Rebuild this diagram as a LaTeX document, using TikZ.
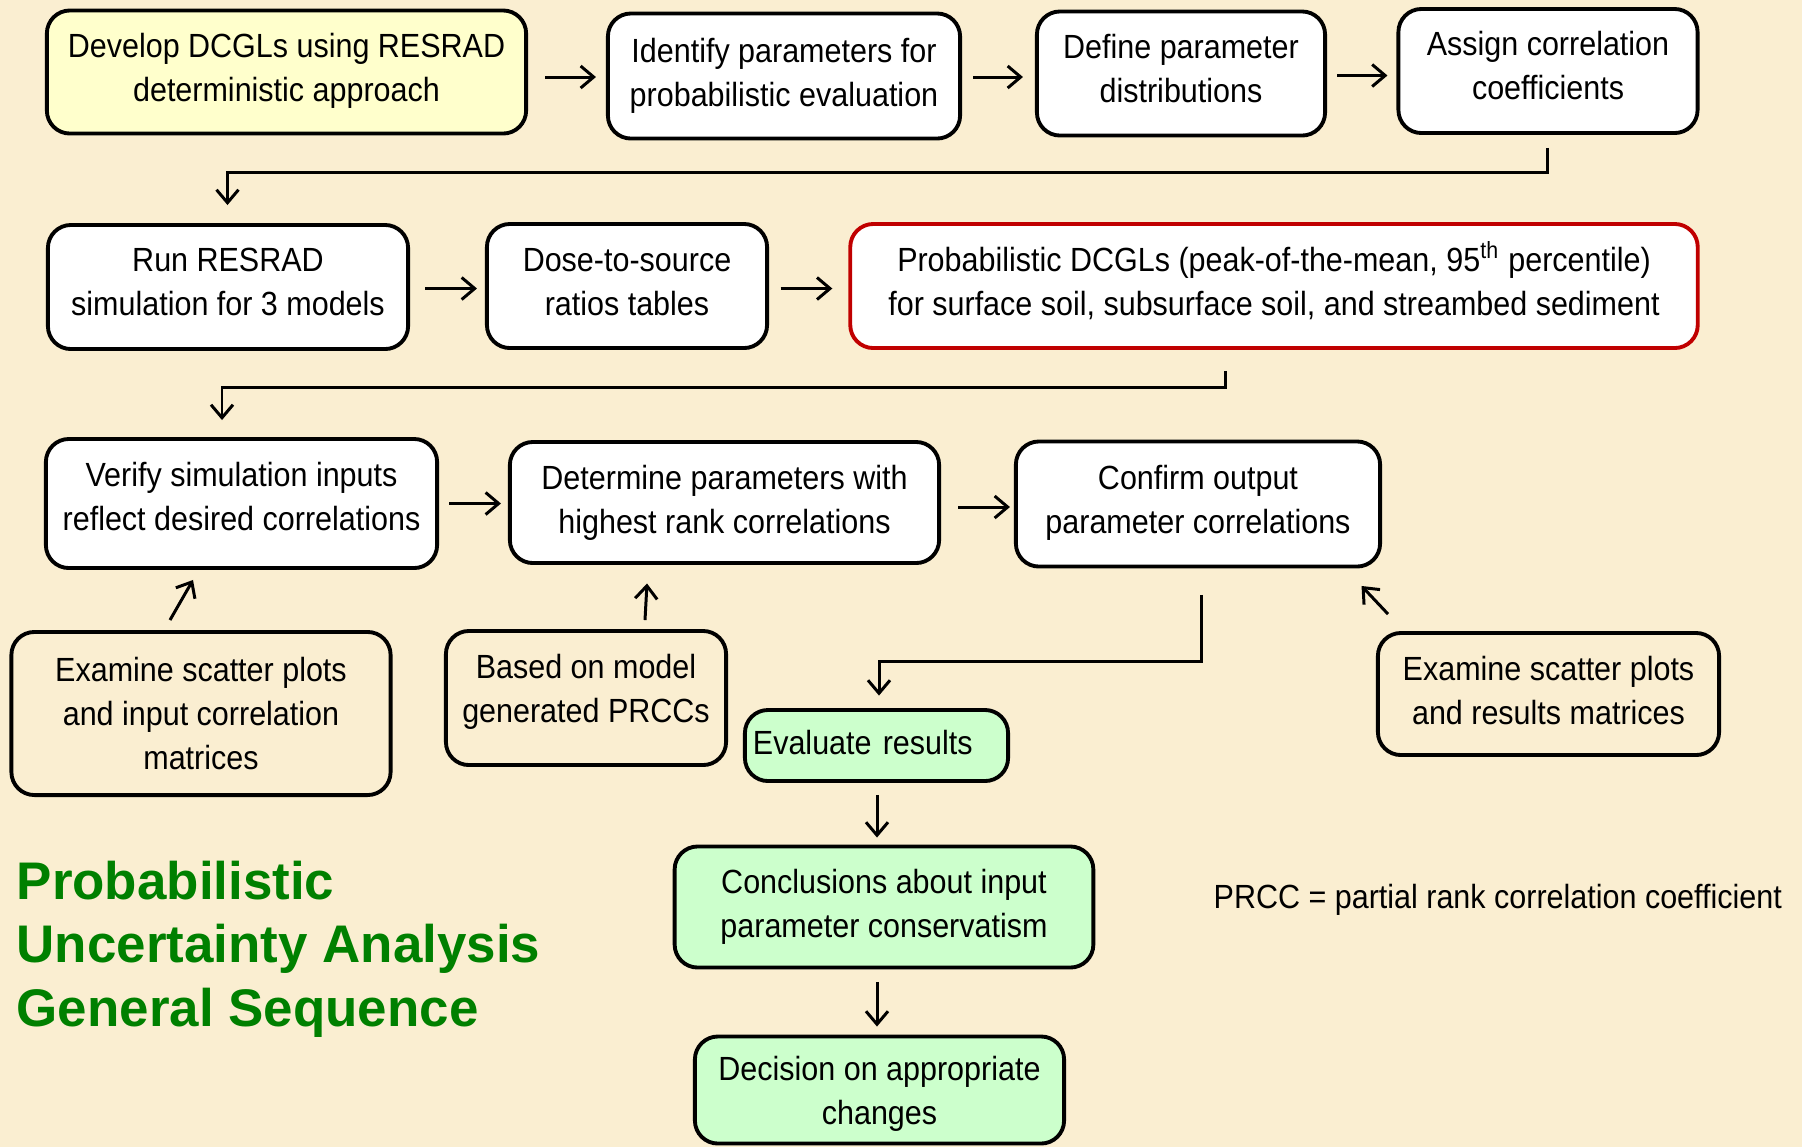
\documentclass[tikz,border=0pt]{standalone}
\usepackage{fontspec}
\setmainfont[FakeStretch=0.91]{Liberation Sans}
\newfontfamily\titlefont{Liberation Sans}
\usetikzlibrary{arrows.meta,calc}
\definecolor{parch}{RGB}{250,238,209}
\definecolor{boxyellow}{RGB}{255,255,204}
\definecolor{boxgreen}{RGB}{204,255,204}
\definecolor{boxred}{RGB}{192,0,0}
\definecolor{titlegreen}{RGB}{0,128,0}
\newcommand\topstrutx{\rule{0pt}{9pt}}
\newcommand\botstrutx[1]{\rule[-#1pt]{0pt}{#1pt}}
\begin{document}
\begin{tikzpicture}[x=0.01cm,y=-0.01cm,
  box/.style={draw=black, line width=1.1pt, rounded corners=0.23cm, align=center,
    font=\fontsize{9.53}{12.5}\selectfont, inner sep=0pt},
  arr/.style={-{Straight Barb[length=0.13cm,width=0.22cm]}, line width=0.85pt},
  plain/.style={font=\fontsize{9.53}{12.5}\selectfont, inner sep=0pt}]
\fill[parch] (0,0) rectangle (1802,1147);
\useasboundingbox (0,0) rectangle (1802,1147);

% row 1
\node[box, fill=boxyellow, minimum width=4.79cm, minimum height=1.23cm] (A) at (286.5,72)
  {\topstrutx Develop DCGLs using RESRAD\\deterministic approach\botstrutx{4.95}};
\node[box, fill=white, minimum width=3.52cm, minimum height=1.25cm] (B) at (784,76)
  {\topstrutx Identify parameters for\\probabilistic evaluation\botstrutx{4.29}};
\node[box, fill=white, minimum width=2.88cm, minimum height=1.24cm] (C) at (1181,73.5)
  {\topstrutx Define parameter\\distributions\botstrutx{5.27}};
\node[box, fill=white, minimum width=2.99cm, minimum height=1.24cm] (D) at (1548,71)
  {\topstrutx Assign correlation\\coefficients\botstrutx{5.27}};

% row 2
\node[box, fill=white, minimum width=3.60cm, minimum height=1.24cm] (E) at (228,287)
  {\topstrutx Run RESRAD\\simulation for 3 models\botstrutx{5.27}};
\node[box, fill=white, minimum width=2.80cm, minimum height=1.24cm] (F) at (627,286)
  {\topstrutx Dose-to-source\\ratios tables\botstrutx{4.95}};
\node[box, fill=white, draw=boxred, minimum width=8.47cm, minimum height=1.24cm] (G) at (1274,286)
  {\topstrutx Probabilistic DCGLs (peak-of-the-mean, 95\textsuperscript{th} percentile)\\for surface soil, subsurface soil, and streambed sediment\botstrutx{4.95}};

% row 3
\node[box, fill=white, minimum width=3.91cm, minimum height=1.29cm] (H) at (241.5,503.5)
  {\topstrutx Verify simulation inputs\\reflect desired correlations\botstrutx{5.93}};
\node[box, fill=white, minimum width=4.29cm, minimum height=1.21cm] (I) at (724.5,502.5)
  {\topstrutx Determine parameters with\\highest rank correlations\botstrutx{3.63}};
\node[box, fill=white, minimum width=3.64cm, minimum height=1.25cm] (J) at (1198,504)
  {\topstrutx Confirm output\\parameter correlations\botstrutx{4.95}};

% row 4
\node[box, minimum width=3.79cm, minimum height=1.63cm] (L) at (201,713.5)
  {\topstrutx Examine scatter plots\\and input correlation\\matrices\botstrutx{2.33}};
\node[box, minimum width=2.80cm, minimum height=1.34cm] (M) at (586,698)
  {\topstrutx Based on model\\generated PRCCs\botstrutx{7.57}};
\node[box, minimum width=3.41cm, minimum height=1.22cm] (N) at (1548.5,694)
  {\topstrutx Examine scatter plots\\and results matrices\botstrutx{3.97}};
\node[box, fill=boxgreen, align=left, text width=2.47cm, inner xsep=0.08cm, minimum height=0.71cm] (K) at (876.5,745.5)
  {\topstrutx Evaluate results\botstrutx{3.63}};
\node[box, fill=boxgreen, minimum width=4.185cm, minimum height=1.21cm] (O) at (884,907)
  {\topstrutx Conclusions about input\\parameter conservatism\botstrutx{3.97}};
\node[box, fill=boxgreen, minimum width=3.69cm, minimum height=1.07cm] (P) at (879.5,1090)
  {\topstrutx Decision on appropriate\\changes\botstrutx{1.35}};

% title and note
\node[anchor=north west, inner sep=0pt, align=left, text=titlegreen,
  font=\titlefont\bfseries\fontsize{15.05}{18.1}\selectfont] (T) at (16,860)
  {Probabilistic\\Uncertainty Analysis\\General Sequence};
\node[plain, anchor=base west] (Q) at (1213,908) {PRCC = partial rank correlation coefficient};

% connectors
\draw[arr] ($(A.east|-B.west)+(17,1)$) -- ($(B.west)+(-10,1)$);
\draw[arr] ($(B.east)+(11,1)$) -- ($(C.west|-B.east)+(-12,1)$);
\draw[arr] ($(C.east)+(10,2)$) -- ($(D.west|-C.east)+(-9,2)$);
\draw[arr] ($(D.south)+(-1,13)$) -- ++(0,25) -| ($(E.north)+(-0.5,-18)$);
\draw[arr] ($(E.east)+(15,1.5)$) -- ($(F.west|-E.east)+(-8,1.5)$);
\draw[arr] ($(F.east)+(11.5,2.5)$) -- ($(G.west|-F.east)+(-16,2.5)$);
\draw[arr] ($(G.south)+(-49,21)$) -- ++(0,17) -| ($(H.north)+(-19.5,-17)$);
\draw[arr] ($(H.east)+(10,0)$) -- ($(I.west|-H.east)+(-7,0)$);
\draw[arr] ($(I.east)+(17,4.5)$) -- ($(J.west|-I.east)+(-4,4.5)$);
\draw[arr] ($(L.north)+(-31,-10)$) -- ($(H.south)+(-48.5,10)$);
\draw[arr] ($(M.north)+(59,-9)$) -- ($(I.south)+(-77.5,18.5)$);
\draw[arr] ($(N.north)+(-160.5,-17)$) -- ($(J.south east)+(-20.5,17.5)$);
\draw[arr] ($(J.south)+(3,26.5)$) -- ++(0,67) -| ($(K.north)+(2.5,-12.5)$);
\draw[arr] ($(K.south)+(0.5,12)$) -- ($(K.south|-O.north)+(0.5,-7)$);
\draw[arr] ($(O.south)+(-7,12.5)$) -- ($(O.south|-P.north)+(-7,-8)$);
\end{tikzpicture}
\end{document}
